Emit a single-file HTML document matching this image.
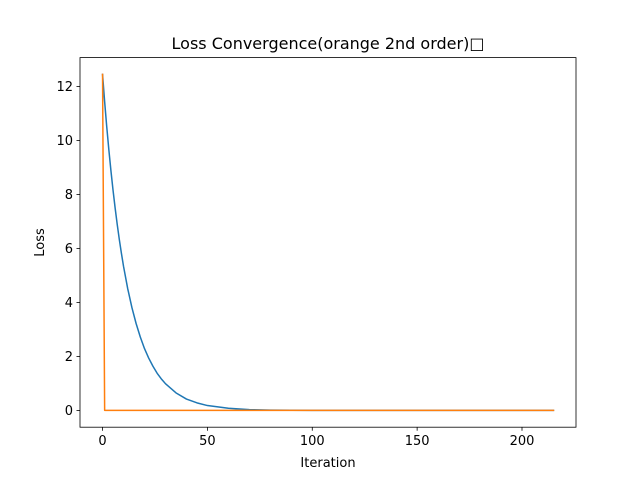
<!DOCTYPE html>
<html><head><meta charset="utf-8"><style>
body{margin:0;background:#fff}
svg text{font-family:"DejaVu Sans","Liberation Sans",sans-serif;fill:#000}
</style></head><body>
<svg id="chart" width="640" height="480" xmlns="http://www.w3.org/2000/svg">
<rect width="640" height="480" fill="#fff"/>
<text x="328" y="49" font-size="16" text-anchor="middle">Loss Convergence(orange 2nd order)□</text>
<g id="plot"></g>
<text x="328" y="467" font-size="13" text-anchor="middle">Iteration</text>
<text transform="translate(44,242.5) rotate(-90)" font-size="13" text-anchor="middle">Loss</text>
</svg>
<script>
const blueX=[0,1,2,3,4,5,6,7,8,9,10,12,14,16,18,20,22,24,26,28,30,35,40,45,50,60,70,80,100,150,215];
const blueY=[12.45,11.44,10.51,9.66,8.88,8.16,7.50,6.89,6.33,5.82,5.34,4.51,3.81,3.22,2.72,2.29,1.94,1.64,1.38,1.17,0.99,0.65,0.42,0.28,0.18,0.08,0.03,0.01,0.0,0.0,0.0];
const orangeX=[0,1,215];
const orangeY=[12.45,0,0];
const xTicks=[0,50,100,150,200];
const yTicks=[0,2,4,6,8,10,12];
const L=80,R=576,T=57.6,B=427.2;
const xMin=-10.75,xMax=225.75,yMin=-0.6225,yMax=13.0725;
const sx=v=>L+(v-xMin)/(xMax-xMin)*(R-L);
const sy=v=>B-(v-yMin)/(yMax-yMin)*(B-T);
const NS="http://www.w3.org/2000/svg";
const g=document.getElementById('plot');
function mk(t,a){const e=document.createElementNS(NS,t);for(const k in a)e.setAttribute(k,a[k]);g.appendChild(e);return e;}
function line(xs,ys,c,name){
  const p=mk('polyline',{points:xs.map((x,i)=>sx(x)+','+sy(ys[i])).join(' '),fill:'none',stroke:c,'stroke-width':1.5,'stroke-linejoin':'round','stroke-linecap':'square'});
  
  
}
line(blueX,blueY,'#1f77b4','blue-loss-line');
line(orangeX,orangeY,'#ff7f0e','orange-loss-line');
xTicks.forEach(v=>{
  const t=mk('line',{x1:sx(v),x2:sx(v),y1:B,y2:B+3.5,stroke:'#000','stroke-width':0.8});
  
  
  const l=mk('text',{x:sx(v),y:B+18,'font-size':13,'text-anchor':'middle'});l.textContent=v;
  
  
});
yTicks.forEach(v=>{
  const t=mk('line',{x1:L-3.5,x2:L,y1:sy(v),y2:sy(v),stroke:'#000','stroke-width':0.8});
  
  
  const l=mk('text',{x:L-7,y:sy(v)+4.5,'font-size':13,'text-anchor':'end'});l.textContent=v;
  
  
});
const f=mk('rect',{x:L,y:T,width:R-L,height:B-T,fill:'none',stroke:'#000','stroke-width':0.8});


</script>
</body></html>
